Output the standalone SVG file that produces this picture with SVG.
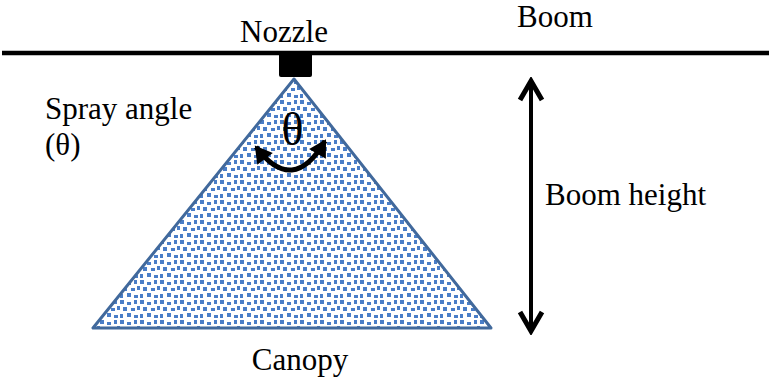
<svg xmlns="http://www.w3.org/2000/svg" width="769" height="379" viewBox="0 0 769 379">
<style>
text{font-family:"Liberation Serif","Times New Roman",serif;fill:#000}
.lbl{font-size:31px}
</style>
<defs>
<pattern id="dots" width="20" height="20" patternUnits="userSpaceOnUse">
<rect width="20" height="20" fill="#fff"/>
<g fill="#4A7EC8">
<rect x="0" y="0" width="4" height="4"/>
<rect x="7" y="2" width="4" height="3"/>
<rect x="14" y="0" width="3" height="4"/>
<rect x="3" y="7" width="4" height="4"/>
<rect x="11" y="8" width="4" height="3"/>
<rect x="17" y="6" width="3" height="4"/>
<rect x="0" y="14" width="3" height="4"/>
<rect x="7" y="13" width="4" height="4"/>
<rect x="14" y="15" width="4" height="3"/>
</g>
</pattern>
<marker id="ah" viewBox="-24 -14 28 28" refX="0" refY="0" markerWidth="28" markerHeight="28" orient="auto-start-reverse" markerUnits="userSpaceOnUse">
<path d="M-19,-11 L0,0 L-19,11" fill="none" stroke="#000" stroke-width="5" stroke-linejoin="miter"/>
</marker>
<marker id="ahs" viewBox="-18 -12 22 24" refX="0" refY="0" markerWidth="22" markerHeight="24" orient="auto-start-reverse" markerUnits="userSpaceOnUse">
<path d="M-14,-8 L0,0 L-14,8 Z" fill="#000" stroke="#000" stroke-width="2" stroke-linejoin="miter"/>
</marker>
</defs>
<g id="boom">
<line x1="2" y1="53" x2="769" y2="53" stroke="#000" stroke-width="4.5"/>
<text class="lbl" x="517" y="27">Boom</text>
</g>
<g id="nozzle">
<rect x="279" y="53" width="33" height="24" rx="2" fill="#000"/>
<text class="lbl" x="284" y="42" text-anchor="middle">Nozzle</text>
</g>
<g id="spray">
<polygon points="294,79 93,328 491,328" fill="url(#dots)" stroke="#41699C" stroke-width="3" stroke-linejoin="round"/>
<text x="292.5" y="145" font-size="46" text-anchor="middle">θ</text>
</g>
<g id="labels">
<text class="lbl" x="45" y="119">Spray angle</text>
<text class="lbl" x="45" y="155">(θ)</text>
<text class="lbl" x="545" y="205">Boom height</text>
<text class="lbl" x="300" y="370" text-anchor="middle">Canopy</text>
</g>
<g id="connectors" fill="none" stroke="#000">
<path d="M256,147 Q293,196 325,141" stroke-width="5" marker-start="url(#ahs)" marker-end="url(#ahs)"/>
<line x1="531" y1="81" x2="531" y2="331" stroke-width="4" marker-start="url(#ah)" marker-end="url(#ah)"/>
</g>
</svg>
